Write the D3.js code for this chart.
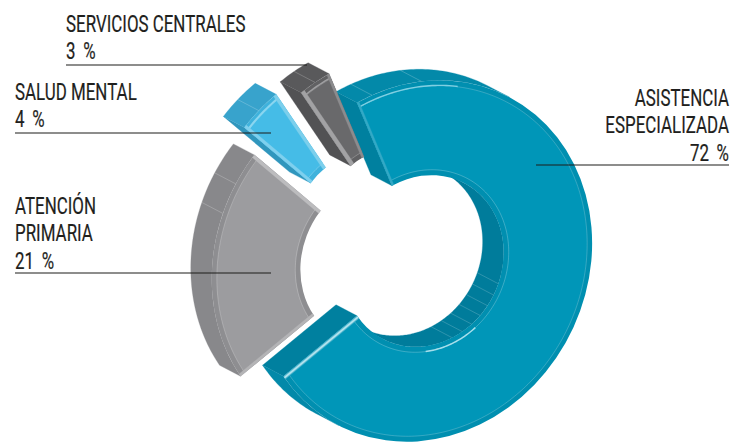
<!DOCTYPE html>
<html><head><meta charset="utf-8">
<script src="https://cdn.jsdelivr.net/npm/d3@7"></script>
<style>html,body{margin:0;padding:0;background:#fff}svg{display:block}
text{font-family:"Roboto","Liberation Sans","DejaVu Sans";font-size:24px;font-weight:400;fill:#1f1f1d;stroke:#1f1f1d;stroke-width:.2}</style>
</head><body><svg id="c" width="733" height="442"></svg>
<script>
// DATA
const categories = ["ASISTENCIA ESPECIALIZADA","ATENCIÓN PRIMARIA","SALUD MENTAL","SERVICIOS CENTRALES"];
const values = [72,21,4,3];
const valueLabels = ["72 %","21 %","4 %","3 %"];

// STYLE
const faceColors  = ["#0096b8","#9c9c9f","#45bce7","#69696b"];
const rimColors   = ["#008fb0","#8e8e91","#3fb2dc","#616163"];
const outerColors = ["#0389a9","#88888b","#38a3cc","#59595b"];
const innerColors = ["#007c9b","#7e7e81","#2f93b8","#505052"];
const cutColors   = ["#00809f","#808083","#3096bd","#525254"];
const startStrip  = [["#33a9c6",.012],["#b4b4b6",.016],["#7fd0ee",.016],["#a2a2a4",.022]];
const endStrip    = [["#58b9d0",.02],["#bcbcbe",.018],["#7ccfec",.018],["#8c8c8e",.014]];
const highlights  = [[[216.5,252,.972,"#7fcfe2",1.4],[22,58,.505,"#a5deeb",1.5]],[],[[191.5,205,.975,"#8ad6f0",2]],[[206,216,.975,"#a0a0a2",1.4]]];
const centers = [[423.5,261],[380.5,261],[370.5,233.5],[395.5,232]];
const depth = [-21,-11];
const tiltDeg = 27.6, semiU = 164, semiV = 185;
const rOuter = 1, rInner = .475;
const startDeg = 306.3;
const outerTicks = [[221.7,238.8],[170.4,180.4],[198],[211]];
const innerTicks = [[-9.5,-1.5,6.5,14.5,22.5,30.5,38.5],[],[],[]];
const labelScaleX = .705;

// GEOMETRY
const t = tiltDeg*Math.PI/180;
const M = [semiU*Math.cos(t), semiU*Math.sin(t), -semiV*Math.sin(t), semiV*Math.cos(t)];
const project = (phi,r,c,s=[0,0]) => {          // phi: d3 arc angle, r: unit radius
  const x = r*Math.sin(phi), y = -r*Math.cos(phi);
  return [c[0]+s[0]+M[0]*x+M[2]*y, c[1]+s[1]+M[1]*x+M[3]*y];
};
const svg = d3.select("#c");
const pie = d3.pie().sort(null).value(d=>d)
  .startAngle(startDeg*Math.PI/180).endAngle((startDeg+360)*Math.PI/180);
const arcs = pie(values);
const line = d3.line();
const poly = (pts,fill,g) => g.append("path").attr("d",line(pts)+"Z").attr("fill",fill).attr("stroke",fill).attr("stroke-width",.3);

arcs.forEach((a,i)=>{
  const c = centers[i], g = svg.append("g");
  const N = Math.ceil((a.endAngle-a.startAngle)/(Math.PI/180));
  const ang = d3.range(N+1).map(k=>a.startAngle+(a.endAngle-a.startAngle)*k/N);
  const wall = (r,sign,fill) => {
    let run=[];
    const flush=()=>{ if(run.length>1){
      poly(run.map(p=>project(p,r,c)).concat(run.slice().reverse().map(p=>project(p,r,c,depth))),fill,g);} run=[]; };
    for(let k=0;k<N;k++){
      const p0=project(ang[k],r,c),p1=project(ang[k+1],r,c);
      const n=[(p1[1]-p0[1])*sign,-(p1[0]-p0[0])*sign];
      if(n[0]*depth[0]+n[1]*depth[1]>0){ if(!run.length) run.push(ang[k]); run.push(ang[k+1]); }
      else flush();
    }
    flush();
  };
  const cutWall = (phi,sign) => {
    const a0=project(phi,rOuter,c),a1=project(phi,rInner,c);
    const n=[(a1[1]-a0[1])*sign,-(a1[0]-a0[0])*sign];
    if(n[0]*depth[0]+n[1]*depth[1]>0)
      poly([a0,a1,project(phi,rInner,c,depth),project(phi,rOuter,c,depth)],cutColors[i],g);
  };
  cutWall(a.startAngle,-1); cutWall(a.endAngle,1);
  wall(rOuter,1,outerColors[i]);
  wall(rInner,-1,innerColors[i]);
  const tick=(deg,r,op)=>{const phi=(deg+90)*Math.PI/180;
    g.append("line").datum([project(phi,r,c),project(phi,r,c,depth)])
     .attr("x1",d=>d[0][0]).attr("y1",d=>d[0][1]).attr("x2",d=>d[1][0]).attr("y2",d=>d[1][1])
     .attr("stroke","#fff").attr("stroke-opacity",op).attr("stroke-width",.6);};
  outerTicks[i].forEach(d=>tick(d,rOuter,.35));
  innerTicks[i].forEach(d=>tick(d,rInner,.3));
  const mat=`matrix(${M[0]},${M[1]},${M[2]},${M[3]},${c[0]},${c[1]})`;
  const band=(r0,r1,fill)=>g.append("path")
    .attr("d",d3.arc().innerRadius(r0).outerRadius(r1)(a)).attr("transform",mat).attr("fill",fill);
  band(rInner,rOuter,rimColors[i]);
  band(rInner+.03,rOuter-.03,faceColors[i]);
  const ring=(r,op,col="#fff",w=.6,list=ang)=>g.append("path")
    .attr("d",d3.line()(list.map(p=>project(p,r,c))))
    .attr("fill","none").attr("stroke",col).attr("stroke-opacity",op).attr("stroke-width",w);
  ring(rOuter-.03,.35); ring(rInner+.03,.4);
  highlights[i].forEach(h=>{
    const phis=d3.range(h[0],h[1]+.5,1).map(d=>(d+90)*Math.PI/180);
    ring(h[2],1,h[3],h[4],phis);
  });
  const strip=(phi,sign,col,w,f0=0,f1=1)=>{
    const nx=Math.cos(phi)*sign*w, ny=Math.sin(phi)*sign*w;
    const q=(r,o)=>{const x=r*Math.sin(phi)+o*nx,y=-r*Math.cos(phi)+o*ny;
      return [c[0]+M[0]*x+M[2]*y,c[1]+M[1]*x+M[3]*y];};
    poly([q(rOuter,f0),q(rInner,f0),q(rInner,f1),q(rOuter,f1)],col,g);
  };
  strip(a.startAngle,1,startStrip[i][0],startStrip[i][1]);
  strip(a.endAngle,-1,endStrip[i][0],endStrip[i][1]);
  if(i===0) strip(a.endAngle,-1,"#b6e5ef",endStrip[i][1],.3,.7);
});

// LABELS
const labels=[
 {i:3,x:66,anchor:"start",lines:["SERVICIOS CENTRALES"],base:32},
 {i:2,x:15,anchor:"start",lines:["SALUD MENTAL"],base:100},
 {i:1,x:15,anchor:"start",lines:["ATENCIÓN","PRIMARIA"],base:214},
 {i:0,x:729,anchor:"end",lines:["ASISTENCIA","ESPECIALIZADA"],base:106}
];
labels.forEach(l=>{
  l.lines.forEach((s,k)=>
    svg.append("text").attr("transform",`translate(${l.x},${l.base+k*27.3}) scale(${labelScaleX},1)`)
      .attr("text-anchor",l.anchor).text(s));
  svg.append("text").attr("transform",`translate(${l.x},${l.base+l.lines.length*27.3}) scale(${labelScaleX},1)`)
      .attr("text-anchor",l.anchor).attr("word-spacing",5).text(valueLabels[l.i]);
});
const leaders=[[66,307,65],[15,271,133],[15,271,273],[536,729,165]];
leaders.forEach(d=>svg.append("line").attr("x1",d[0]).attr("x2",d[1]).attr("y1",d[2]).attr("y2",d[2])
  .attr("stroke","#1d1d1b").attr("stroke-width",1.1));
</script></body></html>
